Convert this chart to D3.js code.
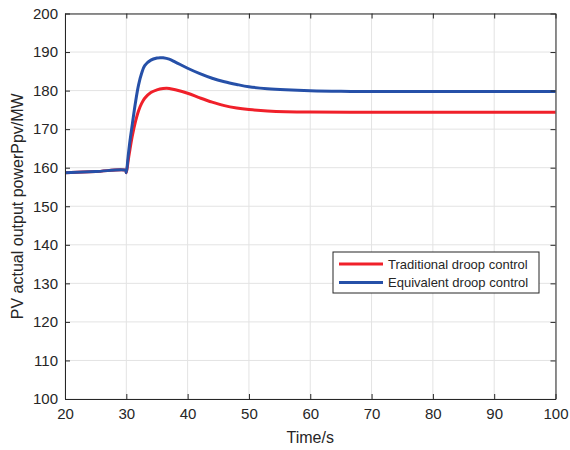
<!DOCTYPE html>
<html>
<head>
<meta charset="utf-8">
<script src="https://cdn.jsdelivr.net/npm/d3@7/dist/d3.min.js"></script>
<style>
  body { margin: 0; background: #fff; }
  svg { font-family: "Liberation Sans", Arial, sans-serif; }
</style>
</head>
<body>
<svg id="chart" width="570" height="450"></svg>
<script>
// time axis samples (s)
var timeTraditional = [20, 25, 29.9, 30, 30.3, 30.6, 31, 31.5, 32, 32.5, 33, 34, 35, 36, 36.6, 37, 38, 40, 42, 44, 46, 48, 50, 53, 56, 60, 70, 80, 90, 100];
var powerTraditional = [158.7, 159.0, 159.3, 158.7, 161.8, 164.8, 168.4, 172.0, 174.8, 176.7, 178.0, 179.5, 180.2, 180.55, 180.6, 180.55, 180.2, 179.3, 178.1, 177.0, 176.1, 175.5, 175.1, 174.7, 174.5, 174.45, 174.4, 174.4, 174.4, 174.4];

var timeEquivalent = [20, 25, 29.9, 30, 30.3, 30.6, 31, 31.5, 32, 32.5, 33, 34, 35, 35.5, 36, 37, 38, 40, 42, 44, 46, 48, 50, 53, 56, 60, 65, 70, 80, 90, 100];
var powerEquivalent = [158.7, 159.0, 159.3, 158.7, 163.0, 167.0, 171.5, 177.0, 181.5, 184.5, 186.5, 187.9, 188.45, 188.55, 188.5, 188.15, 187.4, 185.8, 184.4, 183.2, 182.3, 181.6, 181.0, 180.5, 180.2, 179.95, 179.8, 179.75, 179.75, 179.75, 179.75];

var xTicks = [20, 30, 40, 50, 60, 70, 80, 90, 100];
var yTicks = [100, 110, 120, 130, 140, 150, 160, 170, 180, 190, 200];
var seriesNames = ['Traditional droop control', 'Equivalent droop control'];
var seriesColors = ['#f0202a', '#2650a8'];

var margin = {left: 65, top: 13.5, right: 14.5, bottom: 51};
var W = 570, H = 450;
var svg = d3.select('#chart');
var plotW = W - margin.left - margin.right;
var plotH = H - margin.top - margin.bottom;

var x = d3.scaleLinear().domain([20, 100]).range([0, plotW]);
var y = d3.scaleLinear().domain([100, 200]).range([plotH, 0]);

var g = svg.append('g').attr('transform', 'translate(' + margin.left + ',' + margin.top + ')');

// grid
g.append('g').selectAll('line').data(xTicks).enter().append('line')
    .attr('x1', function (d) { return x(d); }).attr('x2', function (d) { return x(d); })
    .attr('y1', 0).attr('y2', plotH)
    .attr('stroke', '#e3e3e3').attr('stroke-width', 1);
g.append('g').selectAll('line').data(yTicks).enter().append('line')
    .attr('y1', function (d) { return y(d); }).attr('y2', function (d) { return y(d); })
    .attr('x1', 0).attr('x2', plotW)
    .attr('stroke', '#e3e3e3').attr('stroke-width', 1);

// lines
var times = [timeTraditional, timeEquivalent];
var powers = [powerTraditional, powerEquivalent];
var line = d3.line()
    .x(function (d) { return x(d[0]); })
    .y(function (d) { return y(d[1]); })
    .curve(d3.curveCatmullRom.alpha(0.5));
[0, 1].forEach(function (i) {
    var pts = times[i].map(function (t, k) { return [t, powers[i][k]]; });
    g.append('path').datum(pts)
        .attr('fill', 'none')
        .attr('stroke', seriesColors[i])
        .attr('stroke-width', 3)
        .attr('stroke-linejoin', 'round')
        .attr('d', line);
});

// axes (ticks inside, MATLAB style)
var axisColor = '#262626';
var xAxis = d3.axisBottom(x).tickValues(xTicks).tickSizeInner(-5).tickSizeOuter(0).tickPadding(9);
var yAxis = d3.axisLeft(y).tickValues(yTicks).tickSizeInner(-5).tickSizeOuter(0).tickPadding(7);
g.append('g').attr('transform', 'translate(0,' + plotH + ')').call(xAxis);
g.append('g').call(yAxis);
g.append('g').call(d3.axisTop(x).tickValues(xTicks).tickSizeInner(-5).tickSizeOuter(0).tickFormat(''));
g.append('g').attr('transform', 'translate(' + plotW + ',0)')
    .call(d3.axisRight(y).tickValues(yTicks).tickSizeInner(-5).tickSizeOuter(0).tickFormat(''));
g.selectAll('.domain').attr('stroke', axisColor).attr('stroke-width', 1);
g.selectAll('.tick line').attr('stroke', axisColor);
g.selectAll('.tick text').attr('fill', axisColor)
    .style('font-size', '15px').style('font-family', '"Liberation Sans", Arial, sans-serif');

// axis titles
svg.append('text')
    .attr('x', margin.left + plotW / 2).attr('y', 443)
    .attr('text-anchor', 'middle').attr('fill', axisColor)
    .style('font-size', '16px')
    .text('Time/s');
svg.append('text')
    .attr('transform', 'translate(23,' + (margin.top + plotH / 2) + ')rotate(-90)')
    .attr('text-anchor', 'middle').attr('fill', axisColor)
    .style('font-size', '16px')
    .text('PV actual output powerPpv/MW');

// legend
var legend = svg.append('g').attr('transform', 'translate(333,252)');
legend.append('rect').attr('width', 206).attr('height', 41)
    .attr('fill', '#fff').attr('stroke', axisColor).attr('stroke-width', 1);
seriesNames.forEach(function (name, i) {
    var ly = 12 + i * 18.5;
    legend.append('line').attr('x1', 6).attr('x2', 50).attr('y1', ly).attr('y2', ly)
        .attr('stroke', seriesColors[i]).attr('stroke-width', 3);
    legend.append('text').attr('x', 55).attr('y', ly + 4.5)
        .attr('fill', axisColor).style('font-size', '13px')
        .text(name);
});
</script>
</body>
</html>
